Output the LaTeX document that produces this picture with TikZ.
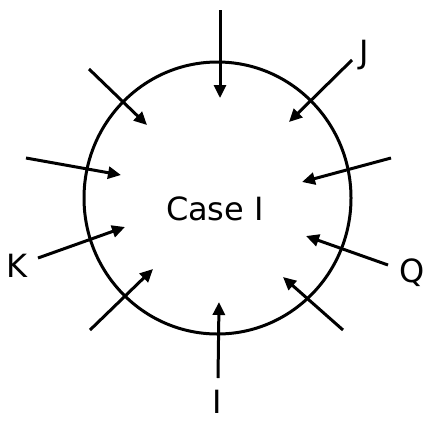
\documentclass[tikz,border=0pt]{standalone}
\usepackage{fontspec}
\setmainfont{DejaVu Sans}
\usetikzlibrary{arrows.meta,shapes.geometric}
\begin{document}
\begin{tikzpicture}[x=1pt,y=-1pt,
  lbl/.style={font=\fontsize{32}{32}\selectfont, inner sep=0pt, anchor=base},
  arr/.style={line width=3pt, -{Triangle[length=13pt,width=12pt]}}]
\useasboundingbox (0,0) rectangle (427,421);
\node[ellipse, draw, line width=3pt, minimum width=267pt, minimum height=272pt, inner sep=0pt] (c) at (217.5,198) {};
\node[lbl, anchor=center] (case) at (215,209) {Case I};
\node[lbl] (J) at (364,63) {J};
\node[lbl] (K) at (17,277) {K};
\node[lbl] (Q) at (412,282) {Q};
\node[lbl] (I) at (217.5,413) {I};
% arrow starts
\coordinate (s1) at (220,10);
\coordinate (s2) at (89,69);
\coordinate (s3) at (352,60);
\coordinate (s4) at (26,158);
\coordinate (s5) at (391,158);
\coordinate (s6) at (38,258);
\coordinate (s7) at (388,265);
\coordinate (s8) at (90,330);
\coordinate (s9) at (343,330);
\coordinate (s10) at (218,378);
% arrow tips
\coordinate (t1) at (220,98);
\coordinate (t2) at (147,125);
\coordinate (t3) at (289,122);
\coordinate (t4) at (121,175);
\coordinate (t5) at (302,182);
\coordinate (t6) at (125,227);
\coordinate (t7) at (306,236);
\coordinate (t8) at (153,269);
\coordinate (t9) at (283,277);
\coordinate (t10) at (219,302);
\foreach \i in {1,...,10} {\draw[arr] (s\i) -- (t\i);}
\end{tikzpicture}
\end{document}
